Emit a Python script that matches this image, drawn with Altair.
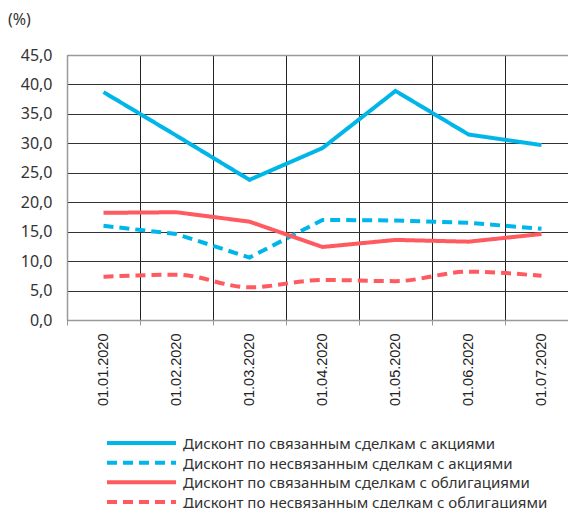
import altair as alt
import pandas as pd

dates = ["01.01.2020", "01.02.2020", "01.03.2020", "01.04.2020",
         "01.05.2020", "01.06.2020", "01.07.2020"]
series = [
    "Дисконт по связанным сделкам с акциями",
    "Дисконт по несвязанным сделкам с акциями",
    "Дисконт по связанным сделкам с облигациями",
    "Дисконт по несвязанным сделкам с облигациями",
]
linked_shares = [38.7, 31.3, 23.8, 29.2, 38.9, 31.5, 29.7]
unlinked_shares = [16.0, 14.6, 10.6, 17.0, 16.9, 16.5, 15.5]
linked_bonds = [18.2, 18.3, 16.7, 12.4, 13.6, 13.3, 14.6]
unlinked_bonds = [7.35, 7.7, 5.55, 6.8, 6.6, 8.2, 7.5]
unit_label = ["(%)"]

colors = ["#00B6E8", "#00B6E8", "#FF5A5F", "#FF5A5F"]
dashes = [[1, 0], [10, 6], [1, 0], [10, 6]]

rows = []
for name, vals in zip(series, [linked_shares, unlinked_shares, linked_bonds, unlinked_bonds]):
    for d, v in zip(dates, vals):
        rows.append({"date": d, "series": name, "value": v})
df = pd.DataFrame(rows)
legend_df = pd.DataFrame({"series": series})

FONT = "Noto Sans"

color_enc = alt.Color("series:N", scale=alt.Scale(domain=series, range=colors), legend=None)
dash_enc = alt.StrokeDash("series:N", scale=alt.Scale(domain=series, range=dashes), legend=None)

base = alt.Chart(df).encode(
    x=alt.X("date:N", sort=dates, title=None,
            scale=alt.Scale(type="band", paddingInner=0, paddingOuter=0, range=[0, 511]),
            axis=alt.Axis(labelAngle=-90, tickBand="extent", grid=True,
                          gridColor="#222", gridWidth=1,
                          domainColor="#999", domainWidth=1.5,
                          tickColor="#999", tickSize=5,
                          labelFont="Liberation Sans", labelFontSize=14.5,
                          labelColor="#222", labelPadding=8)),
    y=alt.Y("value:Q", title=None, scale=alt.Scale(domain=[0, 45]),
            axis=alt.Axis(values=list(range(0, 50, 5)),
                          labelExpr="replace(format(datum.value, '.1f'), '.', ',')",
                          grid=True,
                          gridColor={"condition": {"test": "datum.value === 45", "value": "#999"}, "value": "#333"},
                          gridWidth={"condition": {"test": "datum.value === 45", "value": 1.5}, "value": 1},
                          ticks=False, domainColor="#999", domainWidth=1.5,
                          labelFont=FONT, labelFontSize=16, labelColor="#333",
                          labelPadding=15)),
    color=color_enc,
    strokeDash=dash_enc,
)

lin = base.mark_line(strokeWidth=4).transform_filter(alt.datum.series != series[3])
mono = base.mark_line(strokeWidth=4, interpolate="monotone").transform_filter(alt.datum.series == series[3])
lines = alt.layer(lin, mono)

leg_y = alt.Y("series:N", sort=series, axis=None,
              scale=alt.Scale(type="point", domain=series, range=[388, 447], padding=0))
leg_lines = alt.Chart(legend_df).mark_rule(strokeWidth=4).encode(
    x=alt.value(40), x2=alt.value(109), y=leg_y, color=color_enc, strokeDash=dash_enc)
leg_text = alt.Chart(legend_df).mark_text(
    align="left", baseline="middle", font=FONT, fontSize=15, color="#333", dy=1).encode(
    x=alt.value(116), y=leg_y, text="series:N")
legend_layer = alt.layer(leg_lines, leg_text)

unit = alt.Chart(pd.DataFrame({"t": unit_label})).mark_text(
    align="left", baseline="alphabetic", font=FONT, fontSize=16, color="#333").encode(
    x=alt.value(-59), y=alt.value(-30), text="t:N")

chart = alt.layer(lines, unit, legend_layer).resolve_scale(y="independent").properties(
    width=501, height=265,
    autosize=alt.AutoSizeParams(type="none"),
    padding={"left": 59, "top": 47, "right": 0, "bottom": 188},
).configure_view(strokeWidth=0)

chart.save("out.html", embed_options={"renderer": "svg", "actions": False})
